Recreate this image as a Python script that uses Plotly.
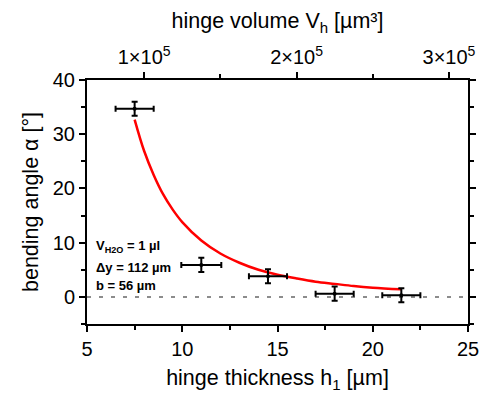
import plotly.graph_objects as go

# measured data
thickness = [7.5, 11.0, 14.5, 18.0, 21.5]
angle = [34.7, 5.9, 3.8, 0.6, 0.3]
thickness_err = [1.0, 1.05, 1.0, 1.0, 1.0]
angle_err = [1.3, 1.3, 1.3, 1.3, 1.3]

# fit curve
fit_h = [7.5, 8.0, 8.5, 9.0, 9.5, 10.0, 11.0, 12.0, 13.0, 14.0, 15.0, 16.0, 17.0, 18.0, 19.0, 20.0, 21.5]
fit_a = [32.7, 26.9, 22.5, 18.9, 16.1, 13.8, 10.4, 8.0, 6.3, 5.0, 4.1, 3.4, 2.8, 2.4, 2.0, 1.7, 1.4]

# top axis ticks (hinge volume)
vol_ticks = [100000, 200000, 300000]
vol_labels = ["1×10<sup>5</sup>", "2×10<sup>5</sup>", "3×10<sup>5</sup>"]
vol_range = [62500, 312500]

font = "Arial, Liberation Sans, sans-serif"
TICK = 20
TITLE = 21.5

fig = go.Figure()

fig.add_trace(go.Scatter(
    x=[5, 25], y=[0, 0], mode="lines",
    line=dict(color="#8c8c8c", width=2, dash="4px,8px"),
    hoverinfo="skip", showlegend=False))

fig.add_trace(go.Scatter(
    x=fit_h, y=fit_a, mode="lines",
    line=dict(color="#ff0000", width=2.5, shape="spline"),
    showlegend=False))

fig.add_trace(go.Scatter(
    x=thickness, y=angle, mode="markers",
    marker=dict(color="black", size=4, symbol="circle"),
    error_x=dict(type="data", array=thickness_err, color="black", thickness=2, width=3),
    error_y=dict(type="data", array=angle_err, color="black", thickness=2, width=3),
    showlegend=False))

# invisible trace for top axis
fig.add_trace(go.Scatter(x=vol_range, y=[None, None], xaxis="x2", mode="lines", showlegend=False, hoverinfo="skip"))

axis_common = dict(
    showline=True, linecolor="black", linewidth=2,
    ticks="outside", tickcolor="black", tickwidth=2, ticklen=6,
    showgrid=False, zeroline=False,
    tickfont=dict(family=font, size=TICK, color="black"),
)

fig.update_layout(
    width=491, height=400,
    margin=dict(l=87, r=17, t=80, b=76),
    paper_bgcolor="white", plot_bgcolor="white",
    font=dict(family=font, color="black"),
    xaxis=dict(
        range=[5, 25], tickvals=[5, 10, 15, 20, 25], mirror=True,
        minor=dict(dtick=2.5, tick0=5, ticks="outside", ticklen=4, tickwidth=2, tickcolor="black"),
        title=dict(text="hinge thickness h<sub>1</sub> [µm]", font=dict(family=font, size=TITLE), standoff=11),
        **axis_common),
    yaxis=dict(
        range=[-5, 40], tickvals=[0, 10, 20, 30, 40], mirror="ticks",
        minor=dict(dtick=5, tick0=0, ticks="outside", ticklen=4, tickwidth=2, tickcolor="black"),
        title=dict(text="bending angle α [°]", font=dict(family=font, size=TITLE), standoff=8),
        **axis_common),
    xaxis2=dict(
        overlaying="x", side="top", range=vol_range,
        tickvals=vol_ticks, ticktext=vol_labels,
        minor=dict(tickvals=[150000, 250000], ticks="outside", ticklen=4, tickwidth=2, tickcolor="black"),
        title=dict(text="hinge volume V<sub>h</sub> [µm³]", font=dict(family=font, size=TITLE), standoff=8),
        **axis_common),
)

notes = ["V<sub>H2O</sub> = 1 µl", "Δy = 112 µm", "b = 56 µm"]
ys = [247, 267, 285]
for t, yp in zip(notes, ys):
    fig.add_annotation(
        text="<b>" + t + "</b>", xref="paper", yref="paper",
        x=(94 - 87) / 387, y=(324 - yp) / 244, xanchor="left", yanchor="middle",
        showarrow=False, font=dict(family=font, size=13, color="black"))

fig.write_html("out.html", config={"displayModeBar": False},
               post_script="document.body.style.margin='0';document.body.style.padding='0';")
